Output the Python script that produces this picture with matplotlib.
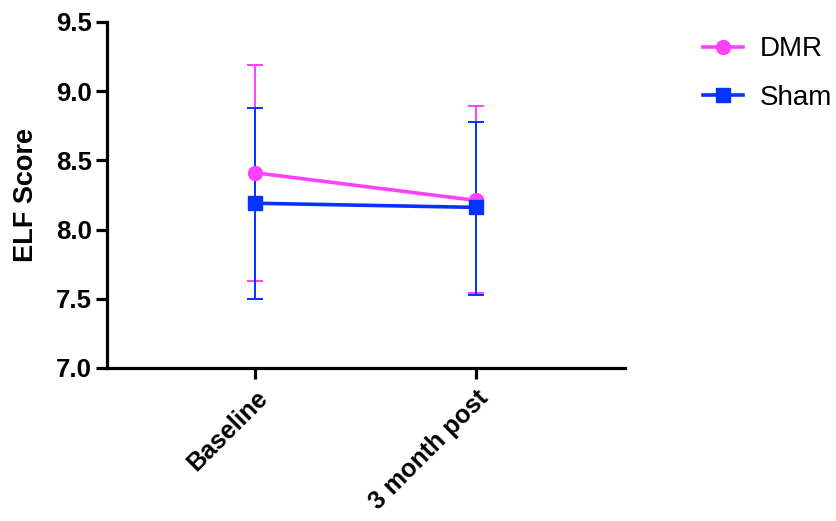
import matplotlib
matplotlib.use("Agg")
import matplotlib.pyplot as plt

categories = ["Baseline", "3 month post"]
dmr_mean = [8.41, 8.21]
dmr_upper = [9.19, 8.89]
dmr_lower = [7.63, 7.54]
sham_mean = [8.19, 8.16]
sham_upper = [8.88, 8.78]
sham_lower = [7.50, 7.53]
yticks = [7.0, 7.5, 8.0, 8.5, 9.0, 9.5]

plt.rcParams['font.family'] = ['Liberation Sans', 'DejaVu Sans']

fig = plt.figure(figsize=(8.36, 5.21), dpi=100)
ax = fig.add_axes([0.128, 0.2937, 0.62, 0.6643])

pink = "#FF40FF"
blue = "#0433FF"
x = list(range(len(categories)))

def draw(mean, lo, hi, color, marker, label, ms):
    yerr = [[m - l for m, l in zip(mean, lo)], [h - m for m, h in zip(mean, hi)]]
    ax.errorbar(x, mean, yerr=yerr, fmt='none', ecolor=color, elinewidth=1.4,
                capsize=5.5, capthick=1.4, zorder=2)
    ax.plot(x, mean, color=color, lw=2.6, marker=marker, ms=ms, label=label, zorder=3)

draw(dmr_mean, dmr_lower, dmr_upper, pink, 'o', 'DMR', 10)
draw(sham_mean, sham_lower, sham_upper, blue, 's', 'Sham', 10)

ax.set_xlim(-0.67, 1.674)
ax.set_ylim(7.0, 9.5)
ax.set_yticks(yticks)
ax.set_yticklabels([f"{v:.1f}" for v in yticks], fontsize=18.5, fontweight='bold')
ax.set_xticks(x)
ax.set_xticklabels(categories, rotation=45, ha='right', rotation_mode='anchor',
                   fontsize=18, fontweight='bold')
ax.set_ylabel("ELF Score", fontsize=19.5, fontweight='bold', labelpad=12)

for s in ['top', 'right']:
    ax.spines[s].set_visible(False)
for s in ['left', 'bottom']:
    ax.spines[s].set_linewidth(2.3)
ax.tick_params(axis='both', width=2.3, length=8, direction='out')
ax.tick_params(axis='x', pad=5)
ax.tick_params(axis='y', pad=3)

leg = ax.legend(loc='upper left', bbox_to_anchor=(1.149, 0.958), frameon=False,
                fontsize=20, handlelength=1.45, labelspacing=0.8, handletextpad=0.6,
                borderpad=0, borderaxespad=0)

fig.savefig("out.png", dpi=100)
